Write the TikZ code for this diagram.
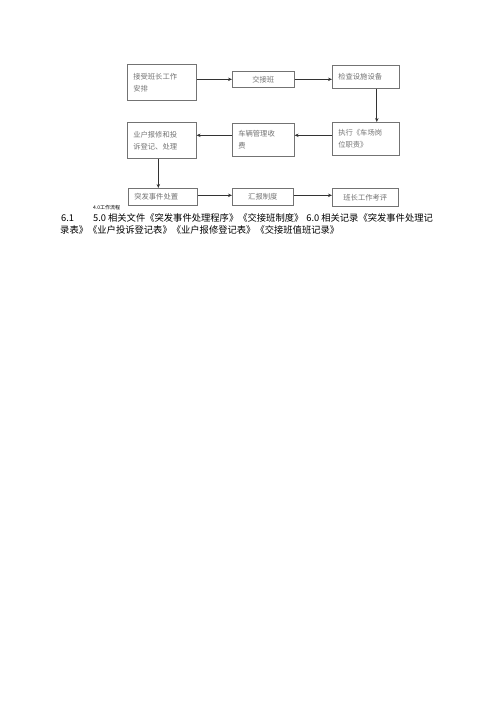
\documentclass[tikz,border=0pt]{standalone}
\usepackage{fontspec}
\newfontfamily\cjk{Noto Sans CJK SC}
\usetikzlibrary{calc,arrows.meta}
\tikzset{
  boxl/.style={draw=black!55, line width=0.6pt, anchor=north west, inner xsep=6pt, inner ysep=0pt,
    align=left, text=black!55, font=\cjk\fontsize{7.3}{12}\selectfont},
  boxc/.style={boxl, align=center},
  arr/.style={draw=black!80, line width=0.8pt, -{Stealth[length=4pt,width=3.5pt]}},
  para/.style={anchor=base west, inner sep=0pt, font=\cjk\fontsize{9.3}{11}\selectfont},
}
\begin{document}
\begin{tikzpicture}[x=1pt,y=-1pt]
\useasboundingbox[fill=white] (0,0) rectangle (500,707);
\node[boxl, text width=57pt, minimum height=36pt] (A) at (127,64) {接受班长工作\\安排};
\node[boxc, text width=50pt, minimum height=16pt] (B) at (232,71) {交接班};
\node[boxl, text width=55pt, minimum height=23pt] (C) at (332,65) {检查设施设备};
\node[boxl, text width=57pt, minimum height=36pt] (D) at (127,122) {业户报修和投\\诉登记、处理};
\node[boxl, text width=50pt, minimum height=33pt] (E) at (232,123) {车辆管理收\\费};
\node[boxl, text width=55pt, minimum height=33pt] (F) at (332,122) {执行《车场岗\\位职责》};
\node[boxl, text width=57pt, minimum height=17pt] (G) at (128,188) {突发事件处置};
\node[boxc, text width=49pt, minimum height=17pt] (H) at (232,188) {汇报制度};
\node[boxc, text width=54pt, minimum height=18pt] (I) at (332,188) {班长工作考评};
\draw[arr] (A.east |- B.west) -- (B.west);
\draw[arr] (B.east) -- (C.west |- B.east);
\coordinate (c1) at ($(C.south)+(11,0)$);
\draw[arr] (c1) -- (c1 |- F.north);
\coordinate (f1) at ($(F.west)+(0,-3.5)$);
\draw[arr] (f1) -- (E.east |- f1);
\draw[arr] (E.west |- f1) -- (D.east |- f1);
\coordinate (d1) at ($(D.south)+(-3.5,0)$);
\draw[arr] (d1) -- (d1 |- G.north);
\coordinate (g1) at ($(G.east)+(0,-1.5)$);
\draw[arr] (g1) -- (H.west |- g1);
\draw[arr] (H.east |- g1) -- (I.west |- g1);
\node[anchor=base west, inner sep=0pt, font=\cjk\fontsize{5}{6}\selectfont] (lab) at (93,209) {4.0工作流程};
\node[para] (p0) at (61,221.5) {6.1};
\node[para] (p1) at (93,221.5) {5.0\hspace{2pt}相关文件《突发事件处理程序》《交接班制度》\hspace{3pt}6.0\hspace{2pt}相关记录《突发事件处理记};
\node[para] (p2) at (60,233) {录表》《业户投诉登记表》《业户报修登记表》《交接班值班记录》};
\end{tikzpicture}
\end{document}
